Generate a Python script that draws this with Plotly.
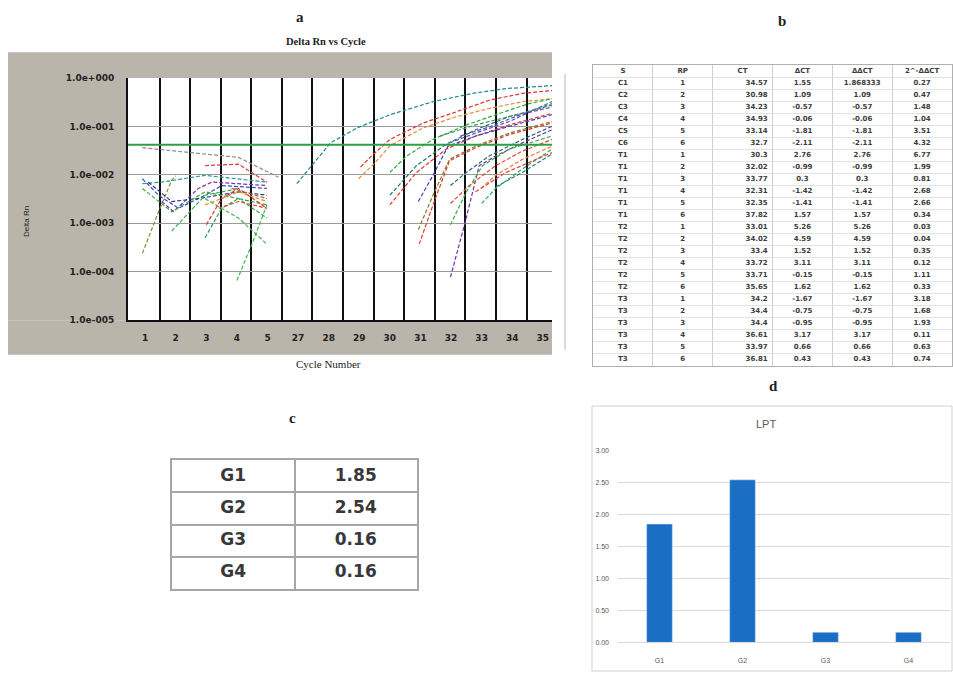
import plotly.graph_objects as go

W, H = 953, 677

# ---------------- panel a : amplification plot ----------------
cycle_labels = ['1', '2', '3', '4', '5', '27', '28', '29', '30', '31', '32', '33', '34', '35']
y_tick_values = [1, 1e-1, 1e-2, 1e-3, 1e-4, 1e-5]
y_tick_labels = ['1.0e+000', '1.0e-001', '1.0e-002', '1.0e-003', '1.0e-004', '1.0e-005']
threshold = 0.042

# early (baseline) cycles: x = position on cycle axis, values = log10(Delta Rn)
early_x = [
    [-0.09, 0.44, 0.87, 1.0],
    [-0.09, 1.42, 3.05, 4.36],
    [-0.09, 0.54, 1.96, 3.05, 3.98],
    [-0.09, 0.44, 1.09, 1.96, 2.5, 3.98],
    [0.54, 0.93, 1.74, 2.18, 3.98],
    [0.1, 0.87, 1.74, 3.05, 3.98],
    [1.96, 3.05, 3.98],
    [-0.09, 0.87, 1.96, 3.05, 3.98],
    [0.87, 1.96, 3.05],
    [1.96, 2.5, 3.05, 3.98],
    [3.0, 3.49, 3.98],
    [1.96, 3.05, 3.98],
    [2.0, 2.5, 3.05, 3.98],
    [1.96, 3.05, 3.98],
    [2.4, 3.05, 3.98],
    [2.83, 3.98],
]
early_log10 = [
    [-3.62, -2.76, -2.11, -2.02],
    [-1.44, -1.54, -1.64, -2.05],
    [-2.18, -2.15, -2.01, -2.08, -2.15],
    [-2.08, -2.42, -2.69, -2.42, -2.22, -2.28],
    [-2.55, -2.76, -2.28, -2.15, -2.22],
    [-2.15, -2.55, -2.49, -2.35, -2.42],
    [-1.81, -1.78, -2.15],
    [-2.28, -2.76, -2.35, -2.49, -2.89],
    [-3.16, -2.42, -2.28],
    [-3.30, -2.69, -2.49, -2.62],
    [-4.18, -3.43, -2.62],
    [-2.49, -2.89, -3.43],
    [-3.03, -2.49, -2.28, -2.69],
    [-2.62, -2.35, -2.55],
    [-2.69, -2.55, -2.69],
    [-2.28, -2.49],
]
early_colors = ['#8a8a3a', '#8c8c8c', '#2f9a9a', '#3a48c0', '#7a35b0', '#2a3a90', '#e03a3a',
                '#37a64a', '#3cb043', '#2ea04f', '#3cb850', '#4caf50', '#e2342f', '#ee8a30',
                '#d94a3a', '#9a6a2a']

# late (exponential) cycles
late_x = [
    [4.96, 5.47, 6.06, 6.93, 8.0, 9.41, 10.7, 11.8, 13.3],
    [7.04, 7.47, 8.0, 9.09, 10.17, 11.25, 12.33, 13.3],
    [6.98, 7.47, 8.0, 9.09, 10.17, 11.25, 12.33, 13.3],
    [8.0, 8.55, 9.41, 10.5, 11.6, 12.55, 13.3],
    [8.0, 8.87, 9.84, 10.8, 11.9, 13.3],
    [8.0, 8.87, 9.84, 10.8, 11.9, 13.3],
    [8.93, 9.41, 9.9, 10.8, 11.9, 13.3],
    [8.93, 9.41, 9.95, 10.8, 11.9, 13.3],
    [8.96, 9.41, 9.95, 10.8, 11.9, 13.3],
    [9.98, 10.44, 10.92, 11.46, 12.33, 13.3],
    [9.98, 10.5, 11.25, 12.33, 13.3],
    [9.98, 10.6, 11.46, 12.33, 13.3],
    [9.98, 10.5, 11.03, 11.9, 13.3],
    [10.98, 11.46, 12.33, 13.3],
    [11.0, 11.46, 12.33, 13.3],
    [11.46, 12.33, 13.3],
    [9.95, 10.8, 11.9, 13.3],
    [9.63, 10.8, 12.33, 13.3],
    [10.8, 11.8, 13.3],
    [10.3, 11.3, 12.3, 13.3],
]
late_log10 = [
    [-2.18, -1.78, -1.34, -1.03, -0.76, -0.49, -0.32, -0.22, -0.16],
    [-1.84, -1.57, -1.27, -0.93, -0.70, -0.46, -0.32, -0.26],
    [-2.08, -1.78, -1.40, -1.03, -0.80, -0.63, -0.49, -0.43],
    [-1.95, -1.61, -1.27, -0.97, -0.73, -0.53, -0.43],
    [-2.42, -1.81, -1.37, -1.07, -0.80, -0.56],
    [-2.62, -1.95, -1.47, -1.20, -0.97, -0.73],
    [-2.55, -2.01, -1.41, -1.20, -1.00, -0.76],
    [-3.13, -2.42, -1.68, -1.41, -1.14, -0.90],
    [-3.43, -2.62, -1.71, -1.44, -1.17, -0.93],
    [-4.11, -3.03, -1.81, -1.61, -1.34, -1.07],
    [-2.22, -1.95, -1.61, -1.27, -1.00],
    [-2.59, -2.22, -1.81, -1.51, -1.27],
    [-3.03, -2.35, -1.81, -1.47, -1.20],
    [-2.28, -2.01, -1.68, -1.41],
    [-2.59, -2.28, -1.88, -1.47],
    [-2.25, -1.95, -1.57],
    [-1.34, -1.14, -0.90, -0.49],
    [-1.20, -0.97, -0.73, -0.53],
    [-2.35, -1.95, -1.54],
    [-1.20, -1.00, -0.75, -0.60],
]
late_colors = ['#1f8a8a', '#e0322c', '#f08a3c', '#2fae3a', '#1d7a55', '#e5372f', '#3b3fbf',
               '#7d7a2a', '#e33b2b', '#7b2fa8', '#246e6e', '#e44a3a', '#35b04a', '#f07b3a',
               '#2ea86a', '#2a7f73', '#4a5cc8', '#4f8f6f', '#e0453a', '#6a4bbd']

# ---------------- panel b : table ----------------
b_columns = ['S', 'RP', 'CT', 'ΔCT', 'ΔΔCT', '2^-ΔΔCT']
b_sample = ['C1', 'C2', 'C3', 'C4', 'C5', 'C6'] + ['T1'] * 6 + ['T2'] * 6 + ['T3'] * 6
b_rp = [1, 2, 3, 4, 5, 6] * 4
b_ct = [34.57, 30.98, 34.23, 34.93, 33.14, 32.7, 30.3, 32.02, 33.77, 32.31, 32.35, 37.82,
        33.01, 34.02, 33.4, 33.72, 33.71, 35.65, 34.2, 34.4, 34.4, 36.61, 33.97, 36.81]
b_dct = [1.55, 1.09, -0.57, -0.06, -1.81, -2.11, 2.76, -0.99, 0.3, -1.42, -1.41, 1.57,
         5.26, 4.59, 1.52, 3.11, -0.15, 1.62, -1.67, -0.75, -0.95, 3.17, 0.66, 0.43]
b_ddct = [1.868333, 1.09, -0.57, -0.06, -1.81, -2.11, 2.76, -0.99, 0.3, -1.42, -1.41, 1.57,
          5.26, 4.59, 1.52, 3.11, -0.15, 1.62, -1.67, -0.75, -0.95, 3.17, 0.66, 0.43]
b_fold = [0.27, 0.47, 1.48, 1.04, 3.51, 4.32, 6.77, 1.99, 0.81, 2.68, 2.66, 0.34,
          0.03, 0.04, 0.35, 0.12, 1.11, 0.33, 3.18, 1.68, 1.93, 0.11, 0.63, 0.74]

# ---------------- panels c / d ----------------
groups = ['G1', 'G2', 'G3', 'G4']
lpt = [1.85, 2.54, 0.16, 0.16]


def px(x):
    return x / W


def py(y):
    return 1 - y / H


fig = go.Figure()
dash = '4px,2px'
for xs, ls, c in zip(early_x + late_x, early_log10 + late_log10, early_colors + late_colors):
    fig.add_trace(go.Scatter(x=xs, y=[10 ** v for v in ls], mode='lines',
                             line=dict(color=c, width=1.2, dash=dash),
                             xaxis='x', yaxis='y', hoverinfo='skip'))
fig.add_trace(go.Scatter(x=[-1, 14], y=[threshold, threshold], mode='lines',
                         line=dict(color='#2e9e44', width=2), xaxis='x', yaxis='y', hoverinfo='skip'))

# panel d bars
fig.add_trace(go.Bar(x=groups, y=lpt, marker_color='#1a6fc4', width=0.31, xaxis='x2', yaxis='y2'))

# panel b table (text on its own axes)
fig.add_trace(go.Scatter(x=list(range(len(b_columns))), y=[0] * len(b_columns), mode='text',
                         text=b_columns, texttemplate='<b>%{text}</b>', textposition='middle center',
                         textfont=dict(family='DejaVu Sans', size=7, color='#3c3c3c'),
                         xaxis='x3', yaxis='y3', hoverinfo='skip'))
b_data = [b_sample, b_rp, b_ct, b_dct, b_ddct, b_fold]
rows = list(range(1, len(b_sample) + 1))
for j, col in enumerate(b_data):
    right = (j == 2)
    fig.add_trace(go.Scatter(x=[j + 0.42 if right else j] * len(col), y=rows, mode='text',
                             text=[str(v) for v in col], texttemplate='<b>%{text}</b>',
                             textposition='middle left' if right else 'middle center',
                             textfont=dict(family='DejaVu Sans', size=7, color='#3c3c3c'),
                             xaxis='x3', yaxis='y3', hoverinfo='skip'))

# panel c table
fig.add_trace(go.Scatter(x=[0] * len(groups), y=list(range(len(groups))), mode='text',
                         text=groups, texttemplate='<b>%{text}</b>', textposition='middle center',
                         textfont=dict(family='DejaVu Sans', size=17, color='#383838'),
                         xaxis='x4', yaxis='y4', hoverinfo='skip'))
fig.add_trace(go.Scatter(x=[1] * len(lpt), y=list(range(len(lpt))), mode='text',
                         text=[f'{v:.2f}' for v in lpt], texttemplate='<b>%{text}</b>',
                         textposition='middle center',
                         textfont=dict(family='DejaVu Sans', size=17, color='#383838'),
                         xaxis='x4', yaxis='y4', hoverinfo='skip'))

tickfont_a = dict(family='DejaVu Sans', size=9, color='#222222', weight='bold')
small_gray = dict(family='Liberation Sans', size=7, color='#595959')
hidden = dict(showticklabels=False, ticks='', zeroline=False)

gray_bg = '#bab5aa'
shapes = [
    dict(type='rect', xref='paper', yref='paper', x0=px(8), x1=px(552), y0=py(74), y1=py(48),
         fillcolor=gray_bg, line=dict(width=0), layer='below'),
    dict(type='rect', xref='paper', yref='paper', x0=px(8), x1=px(128), y0=py(320), y1=py(74),
         fillcolor=gray_bg, line=dict(width=0), layer='below'),
    dict(type='rect', xref='paper', yref='paper', x0=px(8), x1=px(552), y0=py(355), y1=py(320),
         fillcolor=gray_bg, line=dict(width=0), layer='below'),
    dict(type='line', xref='paper', yref='paper', x0=px(565), x1=px(565), y0=py(350), y1=py(70),
         line=dict(color='#cfcfcf', width=1.5)),
    dict(type='rect', xref='paper', yref='paper', x0=px(592), x1=px(952), y0=py(676), y1=py(407),
         line=dict(color='#d0d0d0', width=1)),
]

serif = dict(family='Liberation Serif', size=15, color='#1e1e1e', weight='bold')
annotations = [
    dict(text='a', x=px(300), y=py(12)),
    dict(text='b', x=px(782), y=py(16)),
    dict(text='c', x=px(292), y=py(419)),
    dict(text='d', x=px(773), y=py(387)),
]
for a in annotations:
    a.update(xref='paper', yref='paper', showarrow=False, font=serif, xanchor='center', yanchor='middle')
annotations += [
    dict(text='Delta Rn vs Cycle', x=px(284), y=py(37), xref='paper', yref='paper', showarrow=False,
         yanchor='middle', font=dict(family='Liberation Serif', size=10.5, color='#222', weight='bold')),
    dict(text='Cycle Number', x=px(294), y=py(364), xref='paper', yref='paper', showarrow=False,
         yanchor='middle', font=dict(family='Liberation Serif', size=11, color='#222')),
    dict(text='Delta Rn', x=px(20), y=py(202), xref='paper', yref='paper', showarrow=False,
         textangle=-90, font=dict(family='Liberation Sans', size=8, color='#222')),
    dict(text='LPT', x=px(778), y=py(425), xref='paper', yref='paper', showarrow=False,
         font=dict(family='Liberation Sans', size=11, color='#595959')),
]

fig.update_layout(
    width=W, height=H, margin=dict(l=0, r=0, t=0, b=0),
    paper_bgcolor='white', plot_bgcolor='white', showlegend=False,
    xaxis=dict(domain=[px(128), px(552)], range=[-0.56, 13.3], anchor='y',
               tickmode='array', tickvals=list(range(len(cycle_labels))), ticktext=cycle_labels,
               showgrid=False, zeroline=False, showline=True, linecolor='#111', linewidth=2,
               ticks='', tickfont=tickfont_a, ticklabelstandoff=8,
               minor=dict(tickmode='linear', tick0=0.47, dtick=1, showgrid=True,
                          gridcolor='#111111', gridwidth=2, ticks='')),
    yaxis=dict(domain=[py(320), py(74)], type='log', range=[-5, 0], anchor='x',
               tickmode='array', tickvals=y_tick_values, ticktext=y_tick_labels,
               showgrid=True, gridcolor='#9a9a9a', gridwidth=1, zeroline=False,
               showline=True, linecolor='#111', linewidth=2, ticks='',
               tickfont=tickfont_a, ticklabelstandoff=10),
    xaxis2=dict(domain=[px(618), px(950)], anchor='y2', showgrid=False, zeroline=False,
                showline=True, linecolor='#d9d9d9', ticks='', tickfont=small_gray,
                ticklabelstandoff=11),
    yaxis2=dict(domain=[py(647), py(452)], anchor='x2', range=[0, 3.001], dtick=0.5,
                tickformat='.2f', showgrid=True, gridcolor='#d9d9d9', zeroline=False,
                showline=False, ticks='', tickfont=small_gray, ticklabelstandoff=8),
    xaxis3=dict(domain=[px(593), px(952)], anchor='y3', range=[-0.5, 5.5],
                tickmode='linear', tick0=0.5, dtick=1, showgrid=True, gridcolor='#cfcfcf',
                showline=True, mirror=True, linecolor='#b0b0b0', **hidden),
    yaxis3=dict(domain=[py(366), py(61)], anchor='x3', range=[24.5, -0.5],
                tickmode='linear', tick0=0.5, dtick=1, showgrid=True, gridcolor='#e2e2e2',
                showline=True, mirror=True, linecolor='#b0b0b0', **hidden),
    xaxis4=dict(domain=[px(172), px(417)], anchor='y4', range=[-0.5, 1.5],
                tickmode='linear', tick0=0.5, dtick=1, showgrid=True, gridcolor='#a6a6a6',
                gridwidth=2, showline=True, mirror=True, linecolor='#a6a6a6', linewidth=2, **hidden),
    yaxis4=dict(domain=[py(593), py(462)], anchor='x4', range=[3.5, -0.5],
                tickmode='linear', tick0=0.5, dtick=1, showgrid=True, gridcolor='#a6a6a6',
                gridwidth=2, showline=True, mirror=True, linecolor='#a6a6a6', linewidth=2, **hidden),
    shapes=shapes,
    annotations=annotations,
)

fig.write_html('out.html')
